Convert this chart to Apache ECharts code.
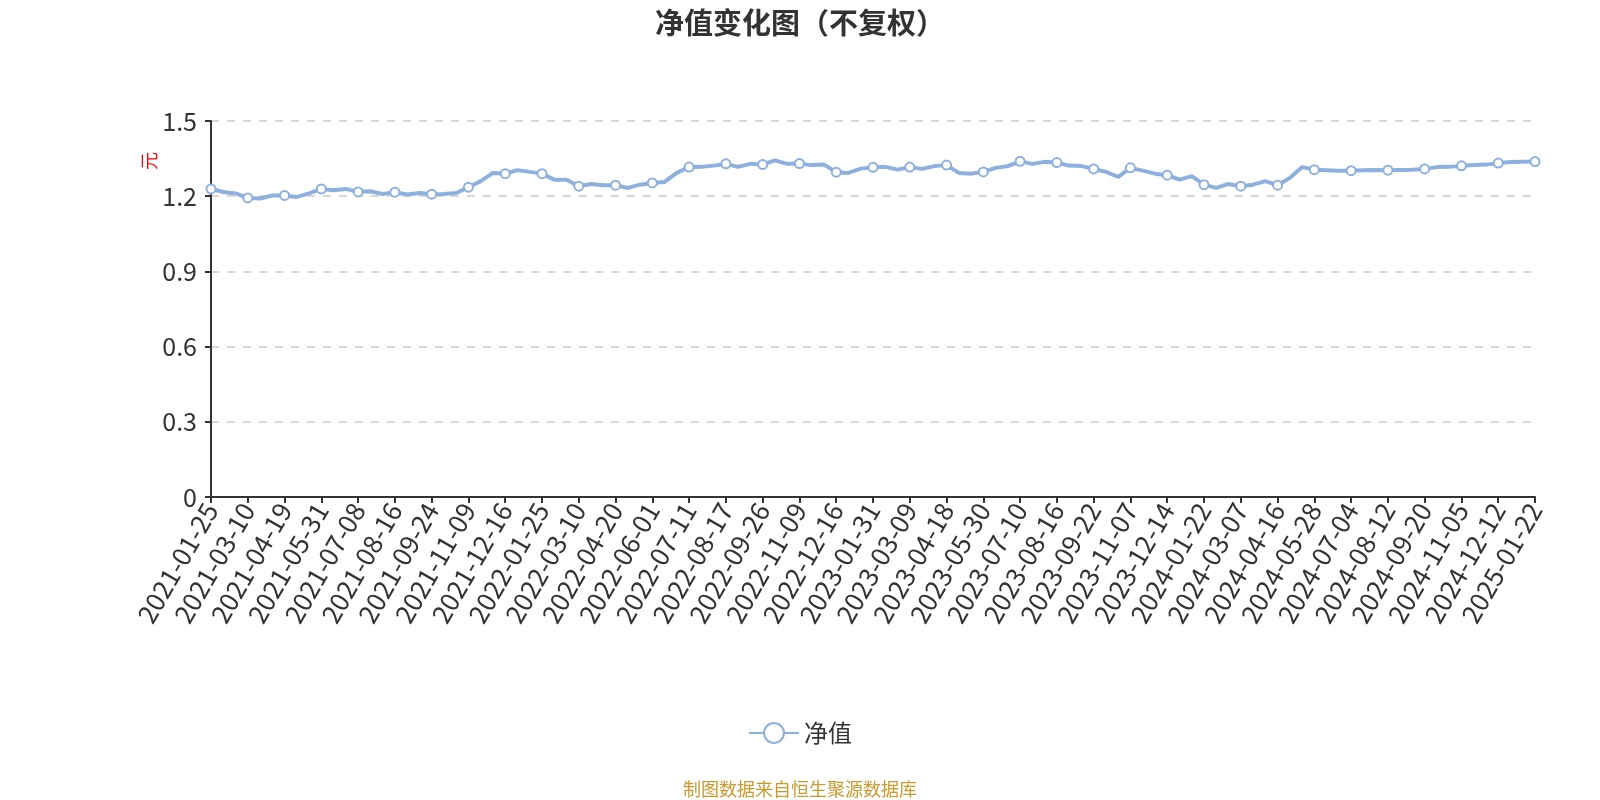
<!DOCTYPE html>
<html>
<head>
    <meta charset="UTF-8">
    <title>净值变化图</title>
    <script type="text/javascript" src="https://cdn.jsdelivr.net/npm/echarts@6/dist/echarts.min.js"></script>
</head>
<style>
    body {
        margin: 0;
        background: #fff;
    }
    .main {
        width: 1600px;
        height: 800px;
    }
</style>
<body>
<div id="charts" class="main"></div>
<script type="text/javascript">
    var dates = [
        '2021-01-25', '2021-02-04', '2021-02-25',
        '2021-03-10', '2021-03-23', '2021-04-02',
        '2021-04-19', '2021-04-30', '2021-05-19',
        '2021-05-31', '2021-06-11', '2021-06-24',
        '2021-07-08', '2021-07-21', '2021-08-03',
        '2021-08-16', '2021-08-27', '2021-09-09',
        '2021-09-24', '2021-10-15', '2021-10-28',
        '2021-11-09', '2021-11-22', '2021-12-03',
        '2021-12-16', '2021-12-29', '2022-01-12',
        '2022-01-25', '2022-02-15', '2022-02-25',
        '2022-03-10', '2022-03-23', '2022-04-06',
        '2022-04-20', '2022-05-05', '2022-05-19',
        '2022-06-01', '2022-06-15', '2022-06-28',
        '2022-07-11', '2022-07-22', '2022-08-04',
        '2022-08-17', '2022-08-30', '2022-09-13',
        '2022-09-26', '2022-10-17', '2022-10-28',
        '2022-11-09', '2022-11-22', '2022-12-05',
        '2022-12-16', '2022-12-29', '2023-01-12',
        '2023-01-31', '2023-02-13', '2023-02-24',
        '2023-03-09', '2023-03-22', '2023-04-04',
        '2023-04-18', '2023-05-04', '2023-05-17',
        '2023-05-30', '2023-06-12', '2023-06-27',
        '2023-07-10', '2023-07-21', '2023-08-03',
        '2023-08-16', '2023-08-29', '2023-09-11',
        '2023-09-22', '2023-10-11', '2023-10-24',
        '2023-11-07', '2023-11-20', '2023-12-01',
        '2023-12-14', '2023-12-27', '2024-01-09',
        '2024-01-22', '2024-02-02', '2024-02-23',
        '2024-03-07', '2024-03-20', '2024-04-01',
        '2024-04-16', '2024-04-29', '2024-05-15',
        '2024-05-28', '2024-06-07', '2024-06-21',
        '2024-07-04', '2024-07-17', '2024-07-30',
        '2024-08-12', '2024-08-23', '2024-09-05',
        '2024-09-20', '2024-10-10', '2024-10-23',
        '2024-11-05', '2024-11-18', '2024-11-29',
        '2024-12-12', '2024-12-25', '2025-01-08',
        '2025-01-22'
    ];
    // 单位净值（元）
    var nav = [
        1.229, 1.217, 1.211,
        1.193, 1.191, 1.203,
        1.203, 1.197, 1.211,
        1.229, 1.224, 1.229,
        1.217, 1.220, 1.209,
        1.216, 1.207, 1.213,
        1.208, 1.209, 1.213,
        1.236, 1.260, 1.293,
        1.290, 1.304, 1.297,
        1.290, 1.266, 1.266,
        1.240, 1.249, 1.244,
        1.244, 1.233, 1.246,
        1.253, 1.257, 1.293,
        1.316, 1.317, 1.322,
        1.329, 1.317, 1.329,
        1.326, 1.343, 1.329,
        1.330, 1.324, 1.326,
        1.296, 1.293, 1.310,
        1.315, 1.317, 1.306,
        1.316, 1.309, 1.320,
        1.324, 1.293, 1.290,
        1.297, 1.313, 1.320,
        1.339, 1.329, 1.337,
        1.334, 1.322, 1.320,
        1.309, 1.297, 1.277,
        1.313, 1.302, 1.290,
        1.284, 1.266, 1.280,
        1.246, 1.233, 1.249,
        1.240, 1.246, 1.260,
        1.244, 1.273, 1.316,
        1.306, 1.304, 1.302,
        1.302, 1.304, 1.305,
        1.304, 1.305, 1.306,
        1.309, 1.316, 1.317,
        1.321, 1.324, 1.326,
        1.332, 1.336, 1.337,
        1.338
    ];
    var yTicks = [0, 0.3, 0.6, 0.9, 1.2, 1.5];

    var font = '"Noto Sans CJK SC", "Noto Sans", sans-serif';
    var myChart = echarts.init(document.getElementById('charts'));
    var option = {
        backgroundColor: '#fff',
        textStyle: {fontFamily: font},
        title: {
            text: '净值变化图（不复权）',
            left: 'center',
            top: 3,
            textStyle: {fontSize: 29, fontWeight: 'bold', color: '#333', fontFamily: font}
        },
        grid: {
            left: 211,
            right: 65,
            top: 121,
            bottom: 303
        },
        legend: {
            data: ['净值'],
            bottom: 50,
            left: 'center',
            itemWidth: 50,
            itemHeight: 25,
            textStyle: {fontSize: 24, color: '#333'}
        },
        graphic: [
            {
                type: 'text',
                x: 149,
                y: 161,
                rotation: Math.PI / 2,
                style: {text: '元', fill: '#ff0000', fontSize: 18, fontFamily: font, align: 'center', verticalAlign: 'middle'}
            },
            {
                type: 'text',
                left: 'center',
                bottom: 2,
                style: {text: '制图数据来自恒生聚源数据库', fill: '#c9992e', fontSize: 18, fontFamily: font}
            }
        ],
        xAxis: {
            type: 'category',
            data: dates,
            boundaryGap: false,
            axisLine: {lineStyle: {color: '#333', width: 2}},
            axisTick: {show: true, interval: 2, length: 6, lineStyle: {color: '#333', width: 2}},
            axisLabel: {interval: 2, rotate: 60, fontSize: 26, color: '#333', margin: 8}
        },
        yAxis: {
            type: 'value',
            min: yTicks[0],
            max: yTicks[yTicks.length - 1],
            interval: 0.3,
            axisLine: {show: true, lineStyle: {color: '#333', width: 2}},
            axisTick: {show: true, length: 6, lineStyle: {color: '#333', width: 2}},
            axisLabel: {fontSize: 25, color: '#333', margin: 14},
            splitLine: {lineStyle: {type: [8, 8], color: '#cccccc', width: 1.5}}
        },
        series: [
            {
                name: '净值',
                type: 'line',
                data: nav,
                showAllSymbol: false,
                symbol: 'emptyCircle',
                symbolSize: 9,
                itemStyle: {color: '#8eb0df', borderWidth: 2},
                lineStyle: {color: '#8eb0df', width: 4}
            }
        ]
    };
    option && myChart.setOption(option);
</script>
</body>
</html>
